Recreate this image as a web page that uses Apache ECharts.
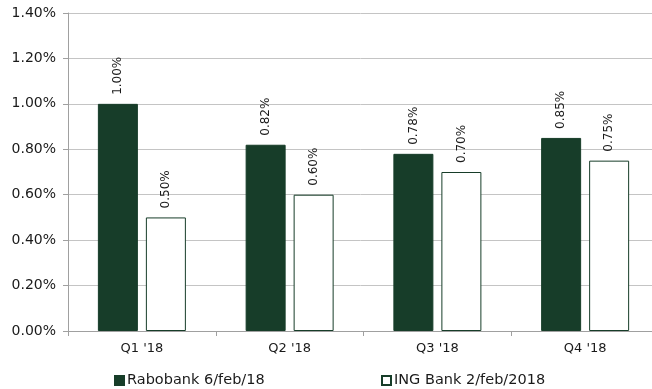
<!DOCTYPE html>
<html>
<head>
<meta charset="utf-8">
<script src="https://cdn.jsdelivr.net/npm/echarts@6/dist/echarts.min.js"></script>
<style>
  html, body { margin: 0; padding: 0; background: #fff; }
  #chart { width: 652px; height: 389px; }
</style>
</head>
<body>
<div id="chart"></div>
<script>
// Quarterly figures, in percent
const quarters = ["Q1 '18", "Q2 '18", "Q3 '18", "Q4 '18"];
const rabobank = [1.00, 0.82, 0.78, 0.85];
const ingBank = [0.50, 0.60, 0.70, 0.75];
const seriesNames = ['Rabobank 6/feb/18', 'ING Bank 2/feb/2018'];
const yTicks = { min: 0, max: 1.4, interval: 0.2 };

const FONT = 'DejaVu Sans, Verdana, sans-serif';
const GREEN = '#173d29';
const TEXT = '#1a1a1a';

const pct = v => v.toFixed(2) + '%';

const valueLabel = {
  show: true,
  position: 'top',
  rotate: 90,
  align: 'left',
  verticalAlign: 'middle',
  distance: 9,
  fontFamily: FONT,
  fontSize: 12,
  color: TEXT,
  formatter: p => pct(p.value)
};

const legendText = { fontFamily: FONT, fontSize: 14.5, color: TEXT, padding: [0, 0, 0, -2] };

const chart = echarts.init(document.getElementById('chart'), null, { renderer: 'canvas' });
chart.setOption({
  animation: false,
  backgroundColor: '#fff',
  // the plot runs slightly past the right edge of the canvas
  grid: { left: 68, width: 591, top: 13, bottom: 58, containLabel: false, outerBoundsMode: 'none' },
  legend: [
    {
      data: [seriesNames[0]],
      left: 109, top: 368,
      itemWidth: 9, itemHeight: 9,
      icon: 'rect',
      textStyle: legendText
    },
    {
      data: [seriesNames[1]],
      left: 376, top: 368,
      itemWidth: 9, itemHeight: 9,
      icon: 'rect',
      textStyle: legendText
    }
  ],
  xAxis: {
    type: 'category',
    data: quarters,
    axisLine: { lineStyle: { color: '#a0a0a0', width: 1 } },
    axisTick: { show: true, length: 5, lineStyle: { color: '#a0a0a0' } },
    axisLabel: { fontFamily: FONT, fontSize: 13, color: TEXT, margin: 11 }
  },
  yAxis: {
    type: 'value',
    min: yTicks.min, max: yTicks.max, interval: yTicks.interval,
    axisLine: { show: true, lineStyle: { color: '#a0a0a0' } },
    axisTick: { show: true, length: 5, lineStyle: { color: '#a0a0a0' } },
    splitLine: { lineStyle: { color: '#c4c4c4' } },
    axisLabel: { fontFamily: FONT, fontSize: 14, color: TEXT, margin: 12, formatter: v => pct(v) }
  },
  series: [
    {
      name: seriesNames[0],
      type: 'bar',
      data: rabobank,
      barWidth: 40,
      barGap: '20%',
      itemStyle: { color: GREEN, borderColor: GREEN, borderWidth: 1 },
      label: valueLabel
    },
    {
      name: seriesNames[1],
      type: 'bar',
      data: ingBank,
      barWidth: 40,
      itemStyle: { color: '#ffffff', borderColor: GREEN, borderWidth: 1 },
      label: valueLabel
    }
  ]
});
</script>
</body>
</html>
